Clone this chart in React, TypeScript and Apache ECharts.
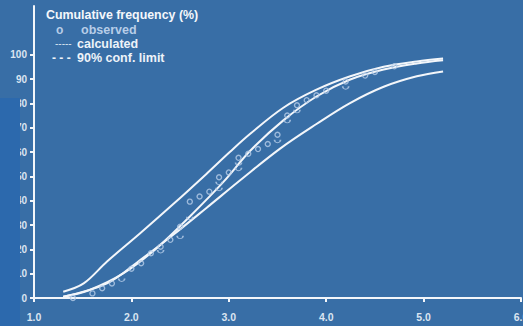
import React, { useEffect, useRef } from "react";
import * as echarts from "echarts";

// Observed cumulative frequency (%)
const obsX = [1.4, 1.6, 1.7, 1.8, 2.0, 2.1, 2.2, 2.3, 2.4, 2.5, 2.6, 2.7, 2.8, 2.9, 3.0, 3.1, 3.2, 3.3, 3.4, 3.5, 3.6, 3.7, 3.8, 3.9, 4.0, 4.2, 4.4, 4.5, 4.7];
const obsY = [0, 1.9, 4.0, 6.0, 12.0, 14.3, 18.4, 21.1, 23.9, 29.3, 39.6, 41.7, 43.7, 49.6, 51.6, 57.6, 59.3, 61.2, 63.3, 67.1, 75.0, 79.2, 81.3, 83.3, 85.2, 89.0, 91.4, 92.9, 95.2];

// faint partial marks (half circles) seen below some points
const arcX = [1.9, 2.3, 2.5, 2.6, 2.9, 2.9, 3.1, 3.1, 3.5, 3.6, 3.7, 4.2];
const arcY = [7.4, 19.1, 25.0, 32.8, 44.7, 47.2, 52.9, 55.1, 64.4, 72.6, 76.7, 86.4];

// calculated curve
const calcX = [1.3, 1.57, 1.92, 2.26, 2.6, 2.94, 3.22, 3.56, 3.9, 4.24, 4.59, 4.93, 5.2];
const calcY = [0.5, 3.3, 10.2, 20.5, 33.5, 47.5, 60.5, 73.0, 82.8, 89.7, 93.9, 96.4, 97.7];

// 90% confidence limits
const upperX = [1.3, 1.51, 1.75, 2.09, 2.43, 2.77, 3.01, 3.22, 3.56, 3.9, 4.24, 4.59, 4.93, 5.2];
const upperY = [2.6, 6.0, 15.0, 26.6, 38.6, 51.0, 60.0, 67.5, 78.2, 85.6, 91.0, 95.0, 97.2, 98.4];
const lowerX = [1.3, 1.75, 2.09, 2.43, 2.77, 3.12, 3.53, 3.9, 4.24, 4.59, 4.93, 5.2];
const lowerY = [0.5, 6.0, 15.6, 26.0, 37.0, 48.5, 61.5, 71.5, 80.0, 86.8, 91.1, 93.1];

const yTickValues = [0, 10, 20, 30, 40, 50, 60, 70, 80, 90, 100];

const zip = (xs: number[], ys: number[]) => xs.map((x, i) => [x, ys[i]]);

const FONT = '"Liberation Sans", Arial, sans-serif';
const BG = "#386ea6";
const LINE = "#f3f6fa";
const LABEL = "#dbe5f1";
const MARK = "#b7cde8";

export default function App() {
  const ref = useRef<HTMLDivElement>(null);
  useEffect(() => {
    document.body.style.margin = "0";
    const chart = echarts.init(ref.current!, null, { renderer: "svg" });
    const lineStyle = { color: LINE, width: 2 };
    const curve = (xs: number[], ys: number[]) => ({
      type: "line",
      data: zip(xs, ys),
      showSymbol: false,
      smooth: 0.35,
      lineStyle,
      z: 3,
    });
    chart.setOption({
      animation: false,
      backgroundColor: BG,
      grid: { left: 34, right: 2, top: 6, bottom: 28, containLabel: false, outerBoundsMode: "none" },
      xAxis: {
        type: "value",
        min: 1,
        max: 6,
        interval: 1,
        axisLine: { lineStyle: { color: LINE, width: 2 } },
        axisTick: { show: true, inside: false, length: 4, lineStyle: { color: LINE, width: 2 } },
        axisLabel: {
          color: LABEL,
          fontFamily: FONT,
          fontWeight: "bold",
          fontSize: 10.5,
          margin: 13,
          hideOverlap: false,
          formatter: (v: number) => v.toFixed(1),
        },
        splitLine: { show: false },
      },
      yAxis: {
        type: "value",
        min: 0,
        max: 120,
        interval: 10,
        axisLine: { show: true, lineStyle: { color: LINE, width: 2 } },
        axisTick: { show: true, length: 4, customValues: yTickValues, lineStyle: { color: LINE, width: 2 } },
        axisLabel: {
          color: LABEL,
          fontFamily: FONT,
          fontWeight: "bold",
          fontSize: 10,
          margin: 7,
          customValues: yTickValues,
        },
        splitLine: { show: false },
      },
      series: [
        curve(upperX, upperY),
        curve(calcX, calcY),
        curve(lowerX, lowerY),
        {
          type: "scatter",
          data: zip(obsX, obsY),
          symbol: "circle",
          symbolSize: 5,
          itemStyle: { color: "rgba(0,0,0,0)", borderColor: MARK, borderWidth: 1.4 },
          z: 4,
        },
        {
          type: "scatter",
          data: zip(arcX, arcY),
          symbol: "path://M0,0 A5,5 0 0 0 10,0",
          symbolSize: [6, 3],
          itemStyle: { color: "rgba(0,0,0,0)", borderColor: MARK, borderWidth: 1.2 },
          z: 4,
        },
      ],
      graphic: [
        {
          type: "rect",
          z: 100,
          shape: { x: 0, y: 98, width: 20, height: 240 },
          style: { fill: "#2c69ad" },
        },
        {
          type: "text",
          z: 101,
          style: { text: "Cumulative frequency (%)", x: 46, y: 15, fill: "#f4f7fb", font: `bold 12.4px ${FONT}`, textVerticalAlign: "middle" },
        },
        {
          type: "text",
          z: 101,
          style: { text: "o", x: 56, y: 30, fill: MARK, font: `bold 12px ${FONT}`, textVerticalAlign: "middle" },
        },
        {
          type: "text",
          z: 101,
          style: { text: "observed", x: 81, y: 30, fill: MARK, font: `bold 12.5px ${FONT}`, textVerticalAlign: "middle" },
        },
        {
          type: "text",
          z: 101,
          style: { text: "-----", x: 55, y: 43, fill: LABEL, font: `10px ${FONT}`, textVerticalAlign: "middle" },
        },
        {
          type: "text",
          z: 101,
          style: { text: "calculated", x: 77, y: 44, fill: "#eef3f9", font: `bold 12.5px ${FONT}`, textVerticalAlign: "middle" },
        },
        {
          type: "text",
          z: 101,
          style: { text: "- - -", x: 52, y: 58, fill: "#eef3f9", font: `bold 12px ${FONT}`, textVerticalAlign: "middle" },
        },
        {
          type: "text",
          z: 101,
          style: { text: "90% conf. limit", x: 77, y: 58, fill: "#eef3f9", font: `bold 12.5px ${FONT}`, textVerticalAlign: "middle" },
        },
      ],
    });
    return () => chart.dispose();
  }, []);
  return <div ref={ref} style={{ width: 523, height: 326 }} />;
}
